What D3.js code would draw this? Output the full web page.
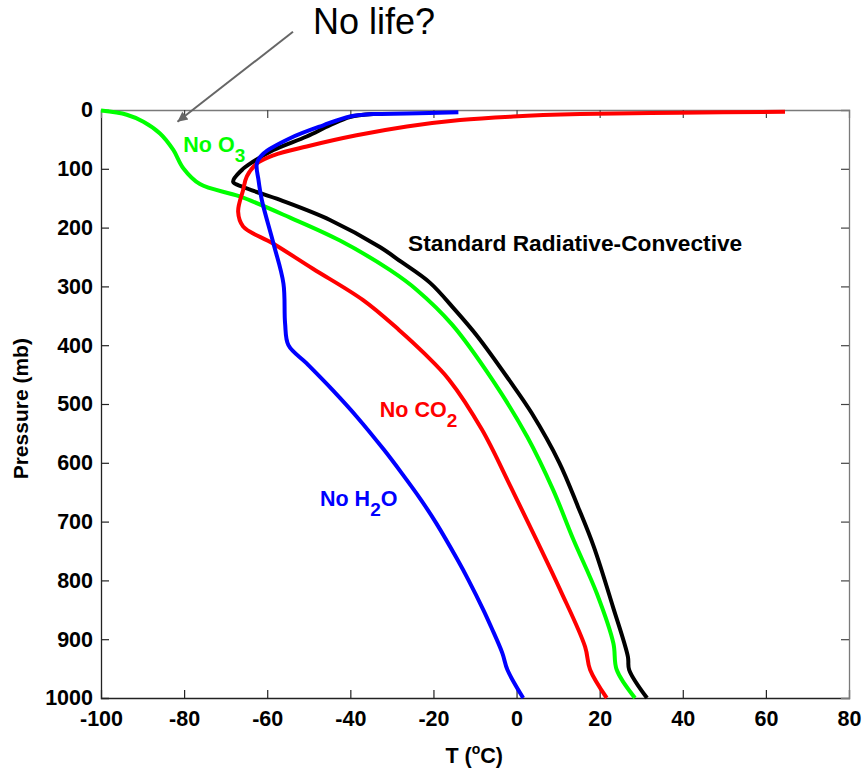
<!DOCTYPE html>
<html>
<head>
<meta charset="utf-8">
<script src="https://cdn.jsdelivr.net/npm/d3@7/dist/d3.min.js"></script>
<style>
  html, body { margin: 0; padding: 0; background: #fff; }
  svg { display: block; }
  text { font-family: "Liberation Sans", Arial, Helvetica, sans-serif; }
</style>
</head>
<body>
<svg id="chart" width="864" height="771"></svg>
<script>
// ---- data: [temperature (°C), pressure (mb)] ----
const standardRC = [[-34.5,7],[-40.1,12],[-44.9,26],[-50.5,45],[-58.5,68],[-63.4,88],[-66.1,102],[-68.2,122],[-65.8,131],[-56.9,153],[-44.9,187],[-32.9,233],[-27.8,258],[-20.8,294],[-14.8,340],[-9.3,386],[-1.8,459],[3.6,515],[10.3,600],[14.8,675],[18.6,743],[23.2,845],[26.8,930],[27.1,952],[31.4,1000]];
const noO3 = [[-100,1],[-93.8,8],[-89.8,20],[-85.8,40],[-82.6,68],[-80.2,99],[-76.2,126],[-66.6,147],[-54.5,183],[-42.5,222],[-30.5,272],[-24.0,306],[-15.5,365],[-5.8,459],[2.6,556],[8.8,646],[13.7,731],[19.3,822],[23.3,907],[24.1,952],[28.5,1000]];
const noCO2 = [[64.6,3],[39.3,4.5],[15.3,7],[-0.8,11],[-13.6,17],[-26.4,28],[-38.5,43],[-50.5,62],[-58.5,77],[-62.5,91],[-64.9,113],[-65.8,136],[-67.0,173],[-65.8,198],[-58.6,227],[-49,270],[-37,323],[-28.3,374],[-22.2,414],[-16.2,459],[-8.3,544],[-1.4,641],[4.8,731],[10.5,816],[16.5,913],[17.7,952],[21.7,1000]];
const noH2O = [[-14,4],[-26.4,6],[-34.5,7],[-40.1,11],[-46.5,26],[-54.5,48],[-60.9,74],[-62.5,91],[-62.1,119],[-61.3,153],[-58.5,227],[-56.1,295],[-55.7,363],[-54.9,400],[-50.5,431],[-44.3,476],[-38.4,522],[-31.9,578],[-27.6,618],[-23.0,663],[-19.3,703],[-14.2,765],[-11.6,799],[-8.0,850],[-6.0,881],[-3.4,924],[-2.2,952],[1.6,1000]];

const xTicks = [-100,-80,-60,-40,-20,0,20,40,60,80];
const yTicks = [0,100,200,300,400,500,600,700,800,900,1000];

const series = [
  {name: "Standard Radiative-Convective", data: standardRC, color: "#000000"},
  {name: "No O3", data: noO3, color: "#00ff00"},
  {name: "No CO2", data: noCO2, color: "#ff0000"},
  {name: "No H2O", data: noH2O, color: "#0000ff"}
];

// ---- layout ----
const W = 864, H = 771;
const margin = {top: 110, right: 15, bottom: 73, left: 101};
const iw = W - margin.left - margin.right;
const ih = H - margin.top - margin.bottom;

const svg = d3.select("#chart");
const g = svg.append("g").attr("transform", `translate(${margin.left},${margin.top})`);

const x = d3.scaleLinear().domain([-100, 80]).range([0, iw]);
const y = d3.scaleLinear().domain([0, 1000]).range([0, ih]);

const fmt = d => String(d);

// axes
const fontSize = 21.5;
const axB = g.append("g").attr("transform", `translate(0,${ih})`)
  .call(d3.axisBottom(x).tickValues(xTicks).tickFormat(fmt).tickSize(-8).tickPadding(13));
const axL = g.append("g")
  .call(d3.axisLeft(y).tickValues(yTicks).tickFormat(fmt).tickSize(-8).tickPadding(8));
const axT = g.append("g")
  .call(d3.axisTop(x).tickValues(xTicks).tickSize(-8).tickFormat(""));
const axR = g.append("g").attr("transform", `translate(${iw},0)`)
  .call(d3.axisRight(y).tickValues(yTicks).tickSize(-8).tickFormat(""));

[axB, axL].forEach(a => {
  a.select(".domain").attr("stroke", "#222").attr("stroke-width", 1.3);
  a.selectAll(".tick line").attr("stroke", "#222").attr("stroke-width", 1.2);
  a.selectAll(".tick text").attr("fill", "#000").style("font-size", fontSize + "px").style("font-weight", "bold")
    .style("font-family", '"Liberation Sans", Arial, sans-serif');
});
[axT, axR].forEach(a => {
  a.select(".domain").attr("stroke", "#7a7a7a").attr("stroke-width", 1.3);
  a.selectAll(".tick line").attr("stroke", "#444").attr("stroke-width", 1.2);
});
axB.selectAll(".tick line").filter(d => d === -100 || d === 80).remove();
axT.selectAll(".tick line").filter(d => d === -100 || d === 80).remove();
axL.selectAll(".tick line").filter(d => d === 0 || d === 1000).remove();
axR.selectAll(".tick line").filter(d => d === 0 || d === 1000).remove();

// lines
const line = d3.line().x(d => x(d[0])).y(d => y(d[1])).curve(d3.curveCatmullRom.alpha(0.5));
g.append("g").selectAll("path").data(series).join("path")
  .attr("d", d => line(d.data))
  .attr("fill", "none")
  .attr("stroke", d => d.color)
  .attr("stroke-width", 4)
  .attr("stroke-linejoin", "round")
  .attr("stroke-linecap", "butt");

// axis titles
svg.append("text")
  .attr("transform", `translate(28,${margin.top + y(508)}) rotate(-90)`)
  .attr("text-anchor", "middle")
  .style("font-size", "21px").style("font-weight", "bold")
  .text("Pressure (mb)");

const xt = svg.append("text")
  .attr("x", margin.left + x(-10.2)).attr("y", 763)
  .attr("text-anchor", "middle")
  .style("font-size", "21.5px").style("font-weight", "bold");
xt.append("tspan").text("T (");
xt.append("tspan").attr("dy", -9).style("font-size", "14px").text("o");
xt.append("tspan").attr("dy", 9).text("C)");

// curve labels
function label(txt, sub, after, tx, py, color) {
  const t = g.append("text")
    .attr("x", x(tx)).attr("y", y(py))
    .attr("fill", color)
    .style("font-size", "21.5px").style("font-weight", "bold");
  t.append("tspan").text(txt);
  if (sub) {
    t.append("tspan").attr("dy", 10).style("font-size", "19px").text(sub);
    if (after) t.append("tspan").attr("dy", -10).text(after);
  }
  return t;
}
label("No O", "3", null, -80.2, 71.5, "#00ff00");
label("No CO", "2", null, -32.9, 522, "#ff0000");
label("No H", "2", "O", -47.3, 673, "#0000ff");
g.append("text")
  .attr("x", x(-26.1)).attr("y", y(240))
  .attr("fill", "#000")
  .style("font-size", "22.7px").style("font-weight", "bold")
  .text("Standard Radiative-Convective");

// annotation arrow "No life?"
const arrowTail = [-53.8, -133];
const arrowTip = [-81.6, 20];
const defs = svg.append("defs");
defs.append("marker")
  .attr("id", "ah").attr("viewBox", "0 0 10 10")
  .attr("refX", 10).attr("refY", 5)
  .attr("markerWidth", 16).attr("markerHeight", 10)
  .attr("markerUnits", "userSpaceOnUse")
  .attr("orient", "auto")
  .append("path").attr("d", "M0,0 L10,5 L0,10 Z").attr("fill", "#666");
g.append("line")
  .attr("x1", x(arrowTail[0])).attr("y1", y(arrowTail[1]))
  .attr("x2", x(arrowTip[0])).attr("y2", y(arrowTip[1]))
  .attr("stroke", "#666").attr("stroke-width", 2)
  .attr("marker-end", "url(#ah)");
g.append("text")
  .attr("x", x(-49)).attr("y", y(-129))
  .attr("fill", "#000")
  .style("font-size", "36px")
  .text("No life?");
</script>
</body>
</html>
